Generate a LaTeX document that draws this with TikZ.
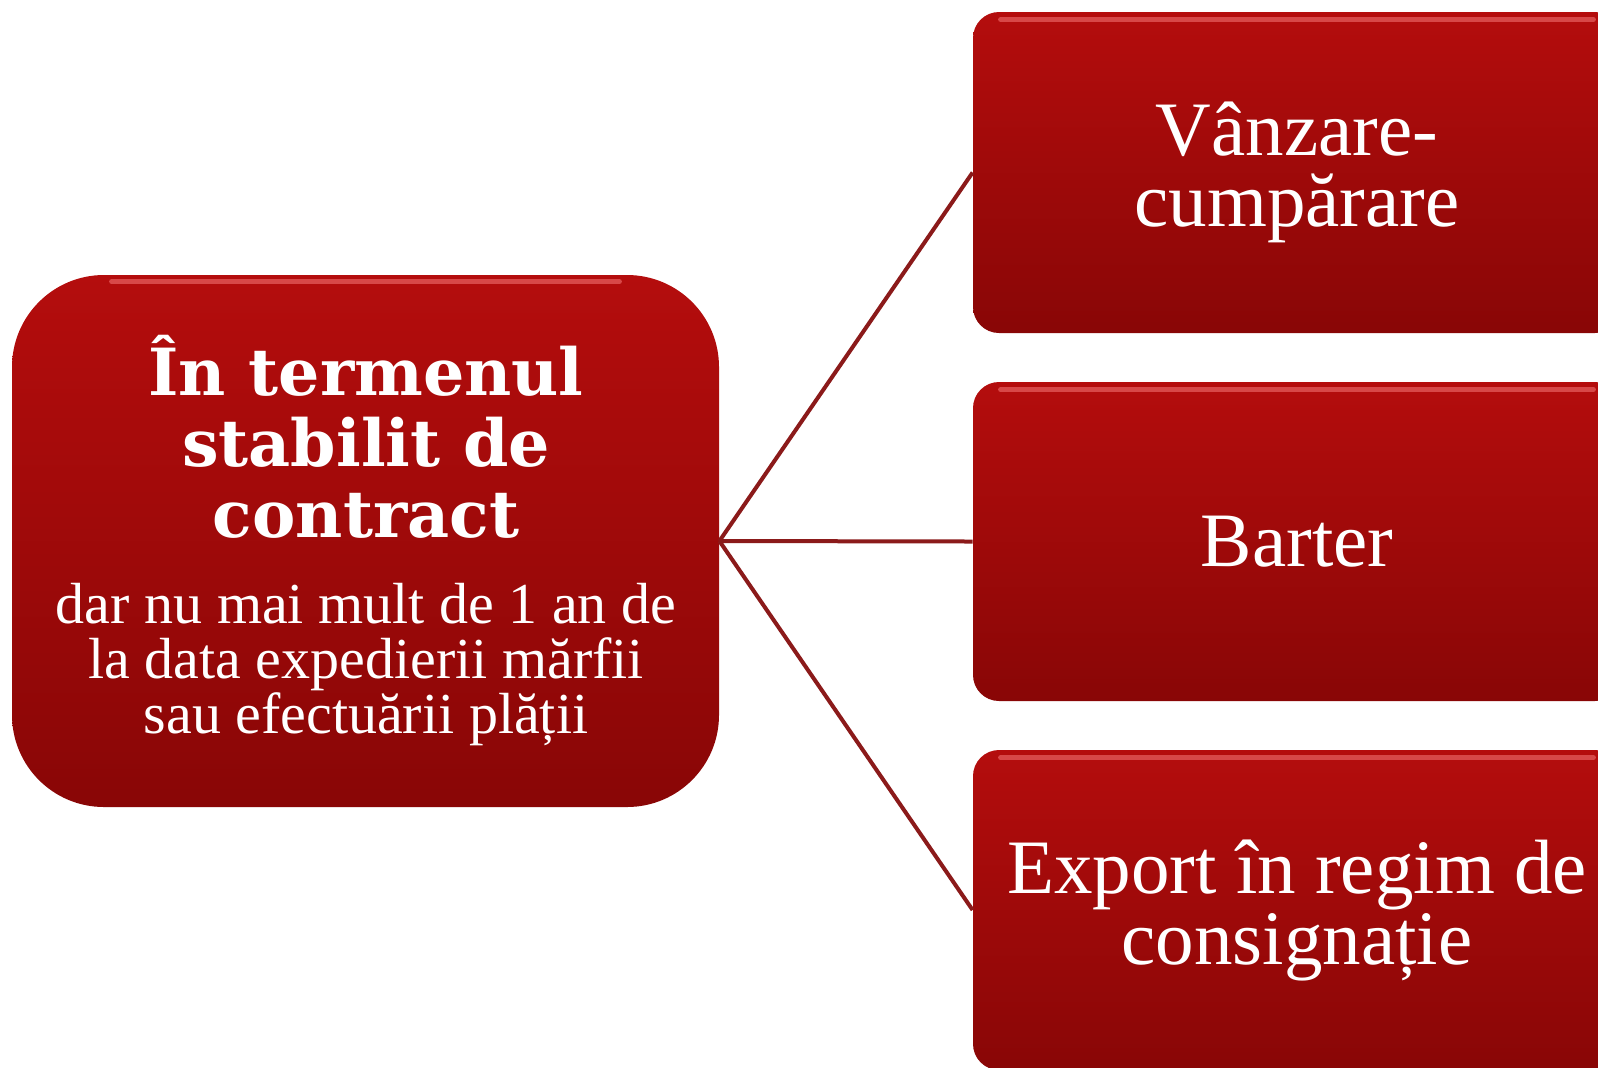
\documentclass[tikz,border=0pt]{standalone}
\usepackage{fontspec}
\setmainfont{Liberation Serif}
\newfontfamily\headfont{DejaVu Serif}
\usetikzlibrary{calc}
\definecolor{boxtop}{HTML}{B40D0D}
\definecolor{boxbot}{HTML}{890606}
\definecolor{linkred}{HTML}{8B1A1A}
\definecolor{glosscol}{HTML}{F07070}
\begin{document}
\begin{tikzpicture}[x=0.5pt,y=-0.5pt,
  redbox/.style={top color=boxtop, bottom color=boxbot, draw=none, inner sep=0pt, text=white, align=center},
  bigbox/.style={redbox, rounded corners=46pt, minimum width=353.5pt, minimum height=266pt},
  smallbox/.style={redbox, rounded corners=13pt, minimum width=324pt,
    font=\fontsize{38.5}{35.5}\selectfont},
  headtxt/.style={text=white, align=center, inner sep=0pt, font=\headfont\bfseries\fontsize{32.5}{35.5}\selectfont},
  subtxt/.style={text=white, align=center, inner sep=0pt, font=\fontsize{29}{27.5}\selectfont},
  link/.style={draw=linkred, line width=2pt},
  gloss/.style={draw=glosscol, line width=2.5pt, opacity=0.6, line cap=round}
]
\path[use as bounding box] (0,0) rectangle (1598,1067);
\clip (0,0) rectangle (1598,1067);

\node[bigbox] (L) at (365.5,541) {};
\node[smallbox, minimum height=160.5pt] (A) at (1297,172.5) {Vânzare-\\cumpărare};
\node[smallbox, minimum height=159.5pt] (B) at (1297,541.5) {Barter};
\node[smallbox, minimum height=160pt] (C) at (1297,910) {Export în regim de\\consignație};

\node[headtxt] (Lh) at (366,437) {În termenul\\stabilit de\\contract};
\node[subtxt] (Ls) at (366,665) {dar nu mai mult de 1 an de\\la data expedierii mărfii\\sau efectuării plății};

\draw[link] (L.east) -- (A.west);
\draw[link] (L.east) -- (B.west);
\draw[link] (L.east) -- (C.west);

\draw[gloss] ($(A.north west)+(28,8)$) -- ($(A.north east)+(-28,8)$);
\draw[gloss] ($(B.north west)+(28,8)$) -- ($(B.north east)+(-28,8)$);
\draw[gloss] ($(C.north west)+(28,8)$) -- ($(C.north east)+(-28,8)$);
\draw[gloss] ($(L.north west)+(100,7)$) -- ($(L.north east)+(-100,7)$);
\end{tikzpicture}
\end{document}
